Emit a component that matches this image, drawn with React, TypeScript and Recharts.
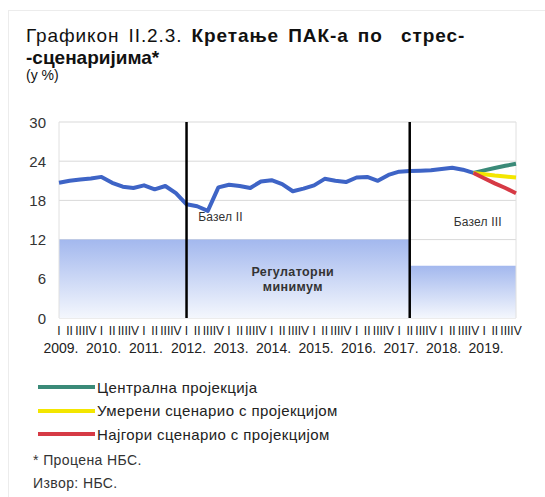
import React from "react";
import { ComposedChart, Line, Area, XAxis, YAxis, CartesianGrid, ReferenceLine, ReferenceDot } from "recharts";

const years = ["2009.", "2010.", "2011.", "2012.", "2013.", "2014.", "2015.", "2016.", "2017.", "2018.", "2019."];
const quarters = ["I", "II", "III", "IV"];

// ПАК, quarterly, 2009 Q1 - 2018 Q4
const pak = [
  20.7, 21.0, 21.2, 21.35, 21.6, 20.7, 20.1, 19.9, 20.3, 19.7,
  20.2, 19.1, 17.4, 17.1, 16.4, 20.0, 20.4, 20.2, 19.9, 20.9,
  21.1, 20.5, 19.4, 19.8, 20.3, 21.3, 21.0, 20.8, 21.5, 21.6,
  21.0, 21.9, 22.4, 22.5, 22.55, 22.6, 22.8, 23.0, 22.7, 22.2,
];
// projections, 2018 Q4 - 2019 Q4
const centralProj = [22.2, 22.6, 22.95, 23.3, 23.6];
const moderateProj = [22.2, 22.0, 21.8, 21.65, 21.5];
const worstProj = [22.2, 21.4, 20.6, 19.9, 19.1];
const projStart = 39;

const basel2Start = 12; // 2012 Q1
const basel3Start = 33; // 2017 Q2
const basel2Min = 12;
const basel3Min = 8;
const yTicks = [0, 6, 12, 18, 24, 30];

const data = years.flatMap((year, yi) =>
  quarters.map((quarter, qi) => {
    const i = yi * 4 + qi;
    const p = i - projStart;
    return {
      i,
      year,
      quarter,
      pak: i < pak.length ? pak[i] : null,
      central: p >= 0 ? centralProj[p] : null,
      moderate: p >= 0 ? moderateProj[p] : null,
      worst: p >= 0 ? worstProj[p] : null,
      reg2: i <= basel3Start ? basel2Min : null,
      reg3: i >= basel3Start ? basel3Min : null,
    };
  })
);

const FONT = "'Liberation Sans', Arial, sans-serif";
const BLUE = "#3e64c6";
const TEAL = "#3a8a78";
const YELLOW = "#f3e600";
const RED = "#d63a45";

const legendItems = [
  { label: "Централна пројекција", color: TEAL },
  { label: "Умерени сценарио с пројекцијом", color: YELLOW },
  { label: "Најгори сценарио с пројекцијом", color: RED },
];

const XTick = (props: any) => {
  const { x, y, payload } = props;
  const d = data[payload.value];
  if (!d) return null;
  return (
    <g>
      <text x={x} y={y + 13} textAnchor="middle" dominantBaseline="central" fontSize={12} fill="#1a1a1a" fontFamily={FONT}>
        {d.quarter}
      </text>
      {d.quarter === "I" && (
        <text x={x + 2} y={y + 30} textAnchor="middle" dominantBaseline="central" fontSize={14} fill="#222" fontFamily={FONT}>
          {d.year}
        </text>
      )}
    </g>
  );
};

const YTick = (props: any) => {
  const { y, payload } = props;
  return (
    <text x={46} y={y} textAnchor="end" dominantBaseline="central" fontSize={15} fill="#333" fontFamily={FONT}>
      {payload.value}
    </text>
  );
};

const textLabel = (lines: string[], bold: boolean, size: number) => (props: any) => {
  const { viewBox } = props;
  const cx = viewBox.x + (viewBox.width || 0) / 2;
  const cy = viewBox.y + (viewBox.height || 0) / 2;
  return (
    <text x={cx} y={cy - ((lines.length - 1) * 15) / 2} textAnchor="middle" fontSize={size} letterSpacing={bold ? 0.4 : 0.2} fontWeight={bold ? 700 : 400} fill="#333" fontFamily={FONT} dominantBaseline="central">
      {lines.map((l, k) => (
        <tspan key={k} x={cx} dy={k === 0 ? 0 : 15}>
          {l}
        </tspan>
      ))}
    </text>
  );
};

export default function App() {
  return (
    <div style={{ position: "absolute", left: 0, top: 0, width: 545, height: 497, background: "#fff", fontFamily: FONT, color: "#111" }}>
      <div style={{ position: "absolute", left: 8, top: 10, right: 0, bottom: 0, borderTop: "1px solid #ececec", borderLeft: "1px solid #ececec" }} />
      <div style={{ position: "absolute", left: 26, top: 25, fontSize: 19, lineHeight: "22px", whiteSpace: "pre", letterSpacing: 0.9, wordSpacing: 3 }}>
        Графикон II.2.3. <b>Кретање ПАК-а по  стрес-</b>
      </div>
      <div style={{ position: "absolute", left: 26, top: 47, fontSize: 19, lineHeight: "22px", fontWeight: 700 }}>-сценаријима*</div>
      <div style={{ position: "absolute", left: 26, top: 66, fontSize: 14, lineHeight: "18px" }}>(у %)</div>

      <div style={{ position: "absolute", left: 0, top: 0 }}>
        <ComposedChart width={545} height={360} data={data} margin={{ top: 122, right: 29, left: 0, bottom: 2 }}>
          <defs>
            <linearGradient id="regGrad" x1="0" y1="0" x2="0" y2="1">
              <stop offset="0%" stopColor="#a3b8ee" />
              <stop offset="100%" stopColor="#f4f7fd" />
            </linearGradient>
          </defs>
          <CartesianGrid vertical={false} stroke="#d9d9d9" />
          <XAxis
            dataKey="i"
            type="number"
            domain={[0, data.length - 1]}
            ticks={data.map((d) => d.i)}
            interval={0}
            tick={<XTick />}
            tickLine={false}
            axisLine={false}
            tickSize={0}
            tickMargin={0}
            height={40}
          />
          <YAxis domain={[0, 30]} ticks={yTicks} tick={<YTick />} tickLine={false} axisLine={false} width={59} />
          <Area dataKey="reg2" type="linear" stroke="none" fill="url(#regGrad)" fillOpacity={1} isAnimationActive={false} />
          <Area dataKey="reg3" type="linear" stroke="none" fill="url(#regGrad)" fillOpacity={1} isAnimationActive={false} />
          <ReferenceLine x={0} stroke="#e0e0e0" />
          <ReferenceLine x={data.length - 1} stroke="#e0e0e0" />
          <Line dataKey="pak" stroke={BLUE} strokeWidth={4} dot={false} strokeLinejoin="round" isAnimationActive={false} />
          <Line dataKey="central" stroke={TEAL} strokeWidth={4} dot={false} isAnimationActive={false} />
          <Line dataKey="moderate" stroke={YELLOW} strokeWidth={4} dot={false} isAnimationActive={false} />
          <Line dataKey="worst" stroke={RED} strokeWidth={4} dot={false} isAnimationActive={false} />
          <ReferenceLine x={basel2Start} stroke="#000" strokeWidth={2.5} />
          <ReferenceLine x={basel3Start} stroke="#000" strokeWidth={2.5} />
          <ReferenceDot x={15.2} y={15.5} r={0} stroke="none" label={textLabel(["Базел II"], false, 12)} />
          <ReferenceDot x={39.4} y={14.7} r={0} stroke="none" label={textLabel(["Базел III"], false, 12)} />
          <ReferenceDot x={22.0} y={5.85} r={0} stroke="none" label={textLabel(["Регулаторни", "минимум"], true, 12.5)} />
        </ComposedChart>
      </div>

      {legendItems.map((it, k) => (
        <div key={it.label} style={{ position: "absolute", left: 38, top: 378 + k * 23.5, height: 18, display: "flex", alignItems: "center", whiteSpace: "nowrap" }}>
          <div style={{ width: 57, height: 4, background: it.color, marginRight: 2 }} />
          <span style={{ fontSize: 15, letterSpacing: 0.4, color: "#222" }}>{it.label}</span>
        </div>
      ))}
      <div style={{ position: "absolute", left: 33, top: 451, fontSize: 14, letterSpacing: 0.4, lineHeight: "18px", color: "#333" }}>* Процена НБС.</div>
      <div style={{ position: "absolute", left: 33, top: 474, fontSize: 14, letterSpacing: 0.4, lineHeight: "18px", color: "#333" }}>Извор: НБС.</div>
    </div>
  );
}
